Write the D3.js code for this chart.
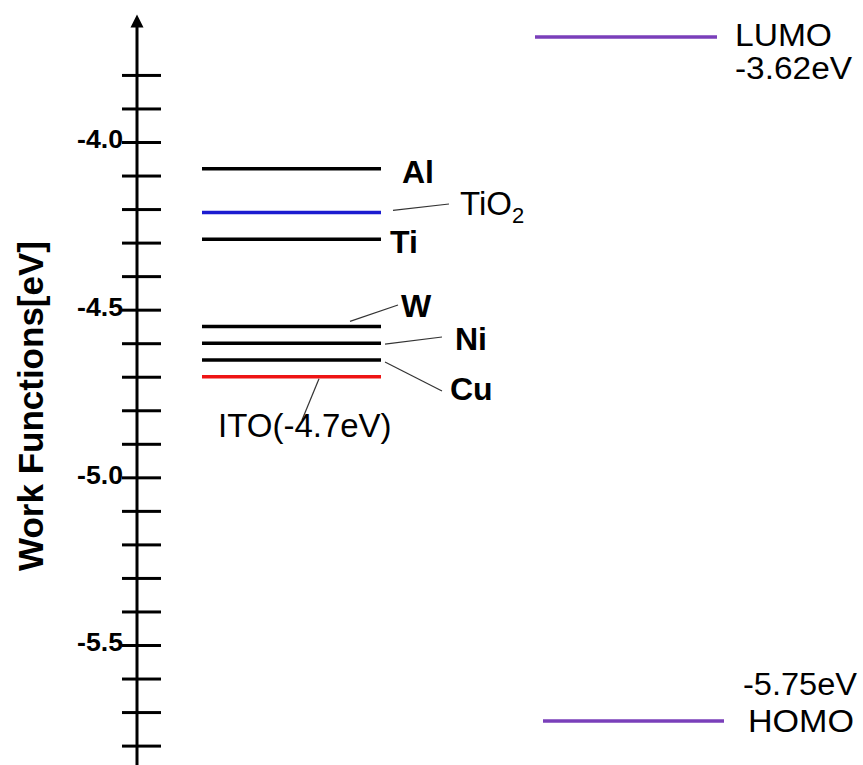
<!DOCTYPE html>
<html>
<head>
<meta charset="utf-8">
<script src="https://cdn.jsdelivr.net/npm/d3@7"></script>
<style>
  body { margin: 0; background: #fff; }
  svg { display: block; }
  text { font-family: "Liberation Sans", Arial, sans-serif; fill: #000; }
</style>
</head>
<body>
<svg id="chart" width="863" height="765"></svg>
<script>
// Electrode work functions (eV)
const electrodes = ["Al", "TiO2", "Ti", "W", "Ni", "Cu", "ITO"];
const workFunctions = [-4.08, -4.21, -4.29, -4.55, -4.60, -4.65, -4.70];
const levelColors = ["#000000", "#1c1cd0", "#000000", "#000000", "#000000", "#000000", "#ee1414"];

// Frontier orbital energies of the active layer (eV)
const orbitals = ["LUMO", "HOMO"];
const orbitalEnergies = [-3.62, -5.75];

// Axis ticks
const tickValues = [-3.8, -3.9, -4.0, -4.1, -4.2, -4.3, -4.4, -4.5, -4.6, -4.7, -4.8,
                    -4.9, -5.0, -5.1, -5.2, -5.3, -5.4, -5.5, -5.6, -5.7, -5.8];
const tickLabels = ["-4.0", "-4.5", "-5.0", "-5.5"];
const axisTitle = "Work Functions[eV]";

const W = 863, H = 765;
const svg = d3.select("#chart");

const axisX = 137;
const y = d3.scaleLinear().domain([-4.0, -5.5]).range([142, 645]);
const yOrb = d3.scaleLinear().domain([orbitalEnergies[0], orbitalEnergies[1]]).range([37, 721]);

// ---- vertical energy axis ----
const fmt = d => {
  const s = d.toFixed(1);
  return tickLabels.includes(s) ? s : "";
};
const gL = svg.append("g").attr("transform", `translate(${axisX},0)`)
  .call(d3.axisLeft(y).tickValues(tickValues).tickSize(15).tickPadding(-1).tickFormat(fmt));
const gR = svg.append("g").attr("transform", `translate(${axisX},0)`)
  .call(d3.axisRight(y).tickValues(tickValues).tickSize(24).tickFormat(""));
[gL, gR].forEach(g => {
  g.select(".domain").remove();
  g.selectAll(".tick line").attr("stroke", "#000").attr("stroke-width", 3);
});
gL.attr("font-size", null).attr("font-family", null);
gL.selectAll(".tick text")
  .attr("dy", "0.22em")
  .style("font-size", "26px")
  .style("font-weight", "bold")
  .attr("textLength", function () { return this.textContent ? 46 : null; })
  .attr("lengthAdjust", "spacingAndGlyphs")
  .attr("fill", "#000");

const tipY = y(orbitalEnergies[0]);
svg.append("line")
  .attr("x1", axisX).attr("x2", axisX)
  .attr("y1", tipY + 8).attr("y2", H)
  .attr("stroke", "#000").attr("stroke-width", 3);
svg.append("path")
  .attr("d", `M${axisX},${tipY} L${axisX + 6.5},${tipY + 13} L${axisX - 6.5},${tipY + 13} Z`)
  .attr("fill", "#000");

svg.append("text")
  .attr("transform", "translate(43,406) rotate(-90)")
  .attr("text-anchor", "middle")
  .style("font-size", "35px")
  .style("font-weight", "bold")
  .text(axisTitle);

// ---- electrode levels ----
const levelX0 = 202, levelX1 = 381;
const levels = electrodes.map((name, i) => ({ name, value: workFunctions[i], color: levelColors[i] }));

svg.append("g").selectAll("line").data(levels).join("line")
  .attr("x1", levelX0).attr("x2", levelX1)
  .attr("y1", d => y(d.value)).attr("y2", d => y(d.value))
  .attr("stroke", d => d.color).attr("stroke-width", 3.5);

// label placement: text anchor point, weight, optional leader (start x, offset from level, end x, end y)
const labelLayout = {
  "Al":   { x: 402, y: 183, bold: true },
  "TiO2": { x: 460, y: 215, bold: false, lead: [393, -2, 449, 204] },
  "Ti":   { x: 390, y: 253, bold: true },
  "W":    { x: 401, y: 317, bold: true, lead: [350, -5, 398, 305] },
  "Ni":   { x: 455, y: 350, bold: true, lead: [385, 1, 442, 337] },
  "Cu":   { x: 450, y: 400, bold: true, lead: [385, 2, 442, 391] },
  "ITO":  { x: 218, y: 437, bold: false, lead: [319, 2, 302, 420] }
};

const leaders = levels.filter(d => labelLayout[d.name].lead);
svg.append("g").selectAll("line").data(leaders).join("line")
  .attr("x1", d => labelLayout[d.name].lead[0])
  .attr("y1", d => y(d.value) + labelLayout[d.name].lead[1])
  .attr("x2", d => labelLayout[d.name].lead[2])
  .attr("y2", d => labelLayout[d.name].lead[3])
  .attr("stroke", "#333").attr("stroke-width", 1.2);

const lbl = svg.append("g").selectAll("text").data(levels).join("text")
  .attr("x", d => labelLayout[d.name].x)
  .attr("y", d => labelLayout[d.name].y)
  .style("font-size", d => labelLayout[d.name].bold ? "32px" : "33px")
  .style("font-weight", d => labelLayout[d.name].bold ? "bold" : "normal");

lbl.each(function (d) {
  const t = d3.select(this);
  if (d.name === "TiO2") {
    t.append("tspan").text("TiO");
    t.append("tspan").attr("dy", 8).style("font-size", "22px").text("2");
  } else if (d.name === "ITO") {
    t.text(`ITO(${d.value.toFixed(1)}eV)`);
  } else {
    t.text(d.name);
  }
});

// ---- LUMO / HOMO of the active layer ----
const orbitalLayout = {
  "LUMO": { x0: 535, x1: 717, nameAt: [735, 46], valueAt: [735, 79] },
  "HOMO": { x0: 543, x1: 724, nameAt: [748, 732], valueAt: [743, 695] }
};
const orbs = orbitals.map((name, i) => ({ name, value: orbitalEnergies[i] }));

svg.append("g").selectAll("line").data(orbs).join("line")
  .attr("x1", d => orbitalLayout[d.name].x0)
  .attr("x2", d => orbitalLayout[d.name].x1)
  .attr("y1", d => yOrb(d.value)).attr("y2", d => yOrb(d.value))
  .attr("stroke", "#7a3fba").attr("stroke-width", 3.5);

const og = svg.append("g");
og.selectAll("text.name").data(orbs).join("text").attr("class", "name")
  .attr("x", d => orbitalLayout[d.name].nameAt[0])
  .attr("y", d => orbitalLayout[d.name].nameAt[1])
  .style("font-size", "31px")
  .attr("textLength", d => d.name === "LUMO" ? 97 : 106)
  .attr("lengthAdjust", "spacingAndGlyphs")
  .text(d => d.name);
og.selectAll("text.val").data(orbs).join("text").attr("class", "val")
  .attr("x", d => orbitalLayout[d.name].valueAt[0])
  .attr("y", d => orbitalLayout[d.name].valueAt[1])
  .style("font-size", "31px")
  .attr("textLength", d => d.name === "LUMO" ? 117 : 114)
  .attr("lengthAdjust", "spacingAndGlyphs")
  .text(d => d.value.toFixed(2) + "eV");
</script>
</body>
</html>
